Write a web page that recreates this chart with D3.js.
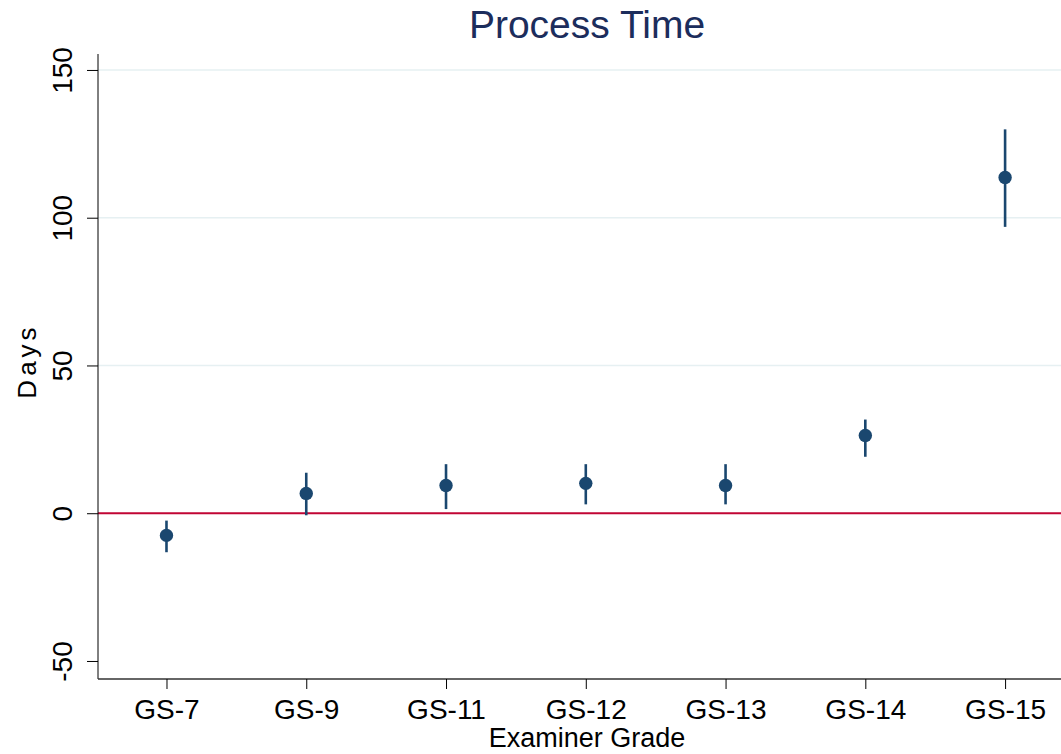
<!DOCTYPE html>
<html>
<head>
<meta charset="utf-8">
<script src="https://cdn.jsdelivr.net/npm/d3@7"></script>
<style>
  body { margin: 0; background: #fff; }
  svg { display: block; font-family: "Liberation Sans", Arial, sans-serif; }
</style>
</head>
<body>
<svg id="chart" width="1061" height="754"></svg>
<script>
var grades = ['GS-7', 'GS-9', 'GS-11', 'GS-12', 'GS-13', 'GS-14', 'GS-15'];
var estimates = [-7.5, 6.7, 9.4, 10.1, 9.4, 26.3, 113.6];
var ciLow = [-13.2, -0.7, 1.4, 3.0, 3.0, 19.1, 96.9];
var ciHigh = [-2.5, 13.7, 16.6, 16.6, 16.6, 31.7, 129.9];
var yTicks = [-50, 0, 50, 100, 150];
var gridTicks = [50, 100, 150];

var svg = d3.select('#chart');
var plotLeft = 98, plotRight = 1061, plotTop = 54, plotBottom = 679;
var navy = '#1a476f';

// categories sit at 1..7, stata-ish range padding
var x = d3.scaleLinear().domain([0.51, 7.4]).range([plotLeft, plotRight]);
var y = d3.scaleLinear().domain([-56.1, 155.4]).range([plotBottom, plotTop]);

// gridlines
svg.append('g').selectAll('line').data(gridTicks).enter().append('line').
  attr('x1', plotLeft).attr('x2', plotRight).
  attr('y1', function(d) { return y(d); }).attr('y2', function(d) { return y(d); }).
  attr('stroke', '#e6f0f2').attr('stroke-width', 1.5);

// zero reference line
svg.append('line').
  attr('x1', plotLeft).attr('x2', plotRight).
  attr('y1', y(0)).attr('y2', y(0)).
  attr('stroke', '#c10534').attr('stroke-width', 2);

// y axis (plain hyphen for negatives, like the original)
var yAxis = svg.append('g').attr('transform', 'translate(' + plotLeft + ',0)').
  call(d3.axisLeft(y).tickValues(yTicks).tickFormat(String).tickSize(11).tickSizeOuter(0));
yAxis.select('.domain').attr('d', 'M0,' + plotBottom + 'V' + plotTop).attr('stroke', '#000');
yAxis.selectAll('.tick line').attr('stroke', '#000');
yAxis.selectAll('.tick text').
  attr('x', 0).attr('dy', 0).
  attr('transform', 'translate(-26,0) rotate(-90)').
  attr('text-anchor', 'middle').
  attr('font-size', 28).attr('font-family', '"Liberation Sans", Arial, sans-serif').
  attr('fill', '#000');

// x axis
var xAxis = svg.append('g').attr('transform', 'translate(0,' + plotBottom + ')').
  call(d3.axisBottom(x).tickValues(d3.range(1, grades.length + 1)).
    tickFormat(function(d) { return grades[d - 1]; }).tickSize(10).tickSizeOuter(0));
xAxis.select('.domain').attr('d', 'M' + plotLeft + ',0H' + plotRight).attr('stroke', '#333').attr('stroke-width', 1.5);
xAxis.selectAll('.tick line').attr('stroke', '#000');
xAxis.selectAll('.tick text').
  attr('y', 40).attr('dy', 0).
  attr('font-size', 28).attr('font-family', '"Liberation Sans", Arial, sans-serif').
  attr('fill', '#000');

// confidence intervals
svg.append('g').selectAll('line').data(grades).enter().append('line').
  attr('x1', function(d, i) { return x(i + 1); }).
  attr('x2', function(d, i) { return x(i + 1); }).
  attr('y1', function(d, i) { return y(ciLow[i]); }).
  attr('y2', function(d, i) { return y(ciHigh[i]); }).
  attr('stroke', navy).attr('stroke-width', 2.6);

// point estimates
svg.append('g').selectAll('circle').data(grades).enter().append('circle').
  attr('cx', function(d, i) { return x(i + 1); }).
  attr('cy', function(d, i) { return y(estimates[i]); }).
  attr('r', 6.7).
  attr('fill', navy);

// titles
svg.append('text').
  attr('x', 587).attr('y', 38).
  attr('text-anchor', 'middle').
  attr('font-size', 39).attr('fill', '#1c2d5c').
  text('Process Time');

svg.append('text').
  attr('x', 587).attr('y', 747).
  attr('text-anchor', 'middle').
  attr('font-size', 27).attr('fill', '#000').
  text('Examiner Grade');

svg.append('text').
  attr('transform', 'translate(36,361) rotate(-90)').
  attr('text-anchor', 'middle').
  attr('font-size', 26).attr('letter-spacing', 4).attr('fill', '#000').
  text('Days');
</script>
</body>
</html>
